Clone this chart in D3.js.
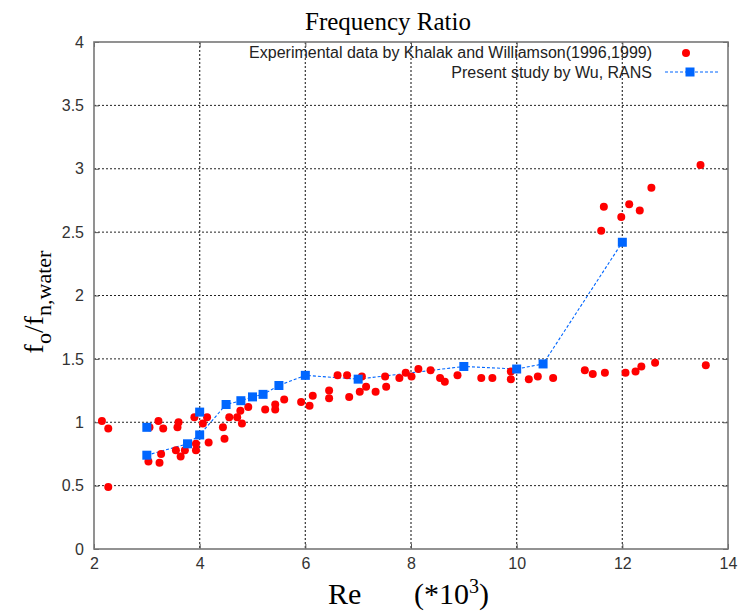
<!DOCTYPE html>
<html>
<head>
<meta charset="utf-8">
<script src="https://cdn.jsdelivr.net/npm/d3@7"></script>
<style>
  html, body { margin: 0; padding: 0; background: #fff; }
  svg { display: block; }
  .tick text { font-family: "Liberation Sans", Arial, sans-serif; font-size: 16px; fill: #333; }
</style>
</head>
<body>
<div id="chart"></div>
<script>
/* Frequency ratio vs Re: experiment (red dots) + RANS (blue squares, dashed). */
const xTicks = [2, 4, 6, 8, 10, 12, 14];
const yTicks = [0, 0.5, 1, 1.5, 2, 2.5, 3, 3.5, 4];

// Khalak & Williamson experimental points
const expRe = [2.15, 2.27, 2.27, 3.03, 3.05, 3.22, 3.31, 3.24, 3.27, 3.60, 3.58, 3.55, 3.64, 3.72,
  3.93, 3.93, 3.90, 4.06, 4.14, 4.17, 4.44, 4.47, 4.56, 4.71, 4.77, 4.80, 4.92, 5.24, 5.43, 5.43,
  5.60, 5.92, 6.08, 6.14, 6.45, 6.45, 6.61, 6.79, 6.83, 7.03, 7.07, 7.15, 7.33, 7.51, 7.53, 7.78,
  7.90, 8.01, 8.14, 8.37, 8.55, 8.64, 8.88, 9.33, 9.54, 9.89, 9.89, 10.23, 10.40, 10.69, 11.29,
  11.44, 11.67, 12.06, 12.25, 12.36, 12.62, 13.58, 13.48, 12.55, 11.65, 12.13, 12.33, 11.98, 11.60];
const expRatio = [1.01, 0.95, 0.49, 0.69, 0.96, 1.01, 0.95, 0.68, 0.75, 1.00, 0.96, 0.78, 0.73, 0.78,
  0.83, 0.78, 1.04, 0.99, 1.04, 0.84, 0.96, 0.87, 1.04, 1.04, 1.09, 0.99, 1.12, 1.10, 1.14, 1.10,
  1.18, 1.16, 1.13, 1.21, 1.25, 1.19, 1.37, 1.37, 1.20, 1.24, 1.36, 1.28, 1.24, 1.36, 1.28, 1.35,
  1.39, 1.36, 1.42, 1.41, 1.35, 1.32, 1.37, 1.35, 1.35, 1.40, 1.34, 1.34, 1.36, 1.35, 1.41,
  1.38, 1.39, 1.39, 1.40, 1.44, 1.47, 1.45, 3.03, 2.85, 2.70, 2.72, 2.67, 2.62, 2.51];

// Wu RANS, connected run
const ransRe = [3.0, 3.77, 4.0, 4.5, 4.78, 5.0, 5.2, 5.5, 6.0, 7.0, 9.0, 10.0, 10.5, 12.0];
const ransRatio = [0.74, 0.83, 0.90, 1.14, 1.17, 1.20, 1.22, 1.29, 1.37, 1.34, 1.44, 1.42, 1.46, 2.42];
// Wu RANS, lone points
const ransLoneRe = [3.0, 4.0];
const ransLoneRatio = [0.96, 1.08];

const W = 739, H = 613;
const m = { t: 42, r: 11, b: 64, l: 94 };
const red = "#ff0000", blue = "#0066ff";
const serif = "'Liberation Serif', 'Times New Roman', serif";

const svg = d3.select("#chart").append("svg").attr("width", W).attr("height", H);
const x = d3.scaleLinear().domain([2, 14]).range([m.l, W - m.r]);
const y = d3.scaleLinear().domain([0, 4]).range([H - m.b, m.t]);

// grid
svg.append("g").selectAll("line").data(yTicks.slice(1, -1)).join("line")
  .attr("x1", m.l).attr("x2", W - m.r).attr("y1", d => y(d)).attr("y2", d => y(d))
  .attr("stroke", "#222").attr("stroke-width", 1).attr("stroke-dasharray", "2,2");
svg.append("g").selectAll("line").data(xTicks.slice(1, -1)).join("line")
  .attr("x1", d => x(d)).attr("x2", d => x(d)).attr("y1", m.t).attr("y2", H - m.b)
  .attr("stroke", "#444").attr("stroke-width", 1.3).attr("stroke-dasharray", "2,2");

// axes (inward ticks, mirrored)
const fmt = d3.format("");
svg.append("g").attr("transform", `translate(0,${H - m.b})`)
  .call(d3.axisBottom(x).tickValues(xTicks).tickFormat(fmt).tickSizeInner(-5).tickSizeOuter(0).tickPadding(9))
  .call(g => g.select(".domain").remove())
  .call(g => g.selectAll(".tick line").attr("stroke", "#555"));
svg.append("g").attr("transform", `translate(${m.l},0)`)
  .call(d3.axisLeft(y).tickValues(yTicks).tickFormat(fmt).tickSizeInner(-5).tickSizeOuter(0).tickPadding(10))
  .call(g => g.select(".domain").remove())
  .call(g => g.selectAll(".tick line").attr("stroke", "#555"));
svg.append("g").attr("transform", `translate(0,${m.t})`)
  .call(d3.axisTop(x).tickValues(xTicks).tickFormat("").tickSizeInner(-5).tickSizeOuter(0))
  .call(g => g.select(".domain").remove())
  .call(g => g.selectAll(".tick line").attr("stroke", "#555"));
svg.append("g").attr("transform", `translate(${W - m.r},0)`)
  .call(d3.axisRight(y).tickValues(yTicks).tickFormat("").tickSizeInner(-5).tickSizeOuter(0))
  .call(g => g.select(".domain").remove())
  .call(g => g.selectAll(".tick line").attr("stroke", "#555"));

// frame
svg.append("rect").attr("x", m.l).attr("y", m.t)
  .attr("width", W - m.l - m.r).attr("height", H - m.t - m.b)
  .attr("fill", "none").attr("stroke", "#777").attr("stroke-width", 1.6);

// RANS dashed line
const line = d3.line().x(d => x(d[0])).y(d => y(d[1]));
svg.append("path").datum(d3.zip(ransRe, ransRatio)).attr("d", line)
  .attr("fill", "none").attr("stroke", blue).attr("stroke-width", 1.1).attr("stroke-dasharray", "3,2");

// experimental dots
const r = 4;
svg.append("g").selectAll("circle").data(d3.zip(expRe, expRatio)).join("circle")
  .attr("cx", d => x(d[0])).attr("cy", d => y(d[1])).attr("r", r).attr("fill", red);

// RANS squares
const sq = 9;
svg.append("g").selectAll("rect")
  .data(d3.zip(ransRe, ransRatio).concat(d3.zip(ransLoneRe, ransLoneRatio))).join("rect")
  .attr("x", d => x(d[0]) - sq / 2).attr("y", d => y(d[1]) - sq / 2)
  .attr("width", sq).attr("height", sq).attr("fill", blue);

// title
svg.append("text").attr("x", 388).attr("y", 30).attr("text-anchor", "middle")
  .style("font-family", serif).style("font-size", "25px")
  .text("Frequency Ratio");

// legend
const lg = svg.append("g").style("font-family", "'Liberation Sans', Arial, sans-serif")
  .style("font-size", "16px").attr("fill", "#222");
lg.append("text").attr("x", 652).attr("y", 58).attr("text-anchor", "end")
  .text("Experimental data by Khalak and Williamson(1996,1999)");
lg.append("circle").attr("cx", 686).attr("cy", 53).attr("r", r).attr("fill", red);
lg.append("text").attr("x", 652).attr("y", 78).attr("text-anchor", "end")
  .text("Present study by Wu, RANS");
lg.append("line").attr("x1", 665).attr("x2", 718).attr("y1", 72).attr("y2", 72)
  .attr("stroke", blue).attr("stroke-width", 1.1).attr("stroke-dasharray", "3,2");
lg.append("rect").attr("x", 690 - sq / 2).attr("y", 72 - sq / 2).attr("width", sq).attr("height", sq).attr("fill", blue);

// axis labels
const xl = svg.append("text").attr("y", 604).style("font-family", serif).style("font-size", "30px");
xl.append("tspan").attr("x", 328).text("Re");
xl.append("tspan").attr("x", 414).text("(*10");
xl.append("tspan").attr("dy", -11).style("font-size", "20px").text("3");
xl.append("tspan").attr("dy", 11).text(")");

const yl = svg.append("text").attr("transform", "translate(43,302) rotate(-90)")
  .attr("text-anchor", "middle").style("font-family", serif).style("font-size", "28px");
yl.append("tspan").text("f");
yl.append("tspan").attr("dy", 8).style("font-size", "22px").text("o");
yl.append("tspan").attr("dy", -8).text("/f");
yl.append("tspan").attr("dy", 8).style("font-size", "22px").text("n,water");
</script>
</body>
</html>
